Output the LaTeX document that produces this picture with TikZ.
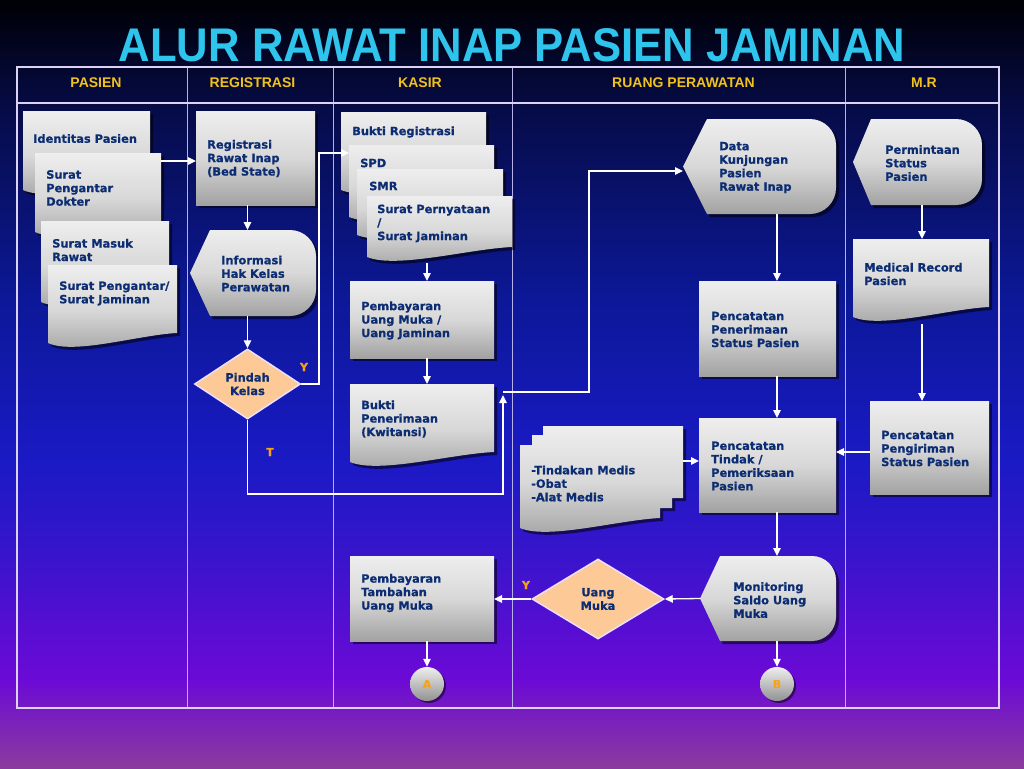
\documentclass[tikz,border=0pt]{standalone}
\usepackage{fontspec}
\setmainfont{DejaVu Sans}
\newfontfamily\boxfont[BoldFeatures={FakeBold=0.7}]{DejaVu Sans}
\newfontfamily\hdrfont{Liberation Sans}
\usetikzlibrary{arrows.meta,shapes.geometric,shadows,fit}
\definecolor{bgA}{HTML}{000004}
\definecolor{bgB}{HTML}{060C48}
\definecolor{bgC}{HTML}{0C1898}
\definecolor{bgD}{HTML}{1A1AC4}
\definecolor{bgE}{HTML}{3A14CC}
\definecolor{bgF}{HTML}{6C0AD6}
\definecolor{bgG}{HTML}{8A3C9C}
\definecolor{txtblue}{HTML}{0D2D72}
\definecolor{shtop}{HTML}{EEEEEE}
\definecolor{shmid}{HTML}{D8D8D8}
\definecolor{shbot}{HTML}{A2A2A2}
\definecolor{peach}{HTML}{FDC996}
\definecolor{diaborder}{HTML}{ECE0FA}
\definecolor{lblorange}{HTML}{F6A21A}
\definecolor{hdryellow}{HTML}{F2C21C}
\definecolor{ttlcyan}{HTML}{2FC4EC}
\definecolor{tblline}{HTML}{DCD2F6}
\definecolor{tblthin}{HTML}{B8B0E8}
\newcommand\rectshape[4]{\path[shp] (#1,#2) rectangle (#3,#4);}
\newcommand\docshape[4]{\path[shp] (#1,#2) -- (#3,#2) -- (#3,#4) .. controls ({#3-0.3*(#3-#1)},{#4+2}) and ({#1+0.2*(#3-#1)},{#4+22}) .. (#1,{#4+10}) -- cycle;}
\newcommand\dispshape[6]{\path[shp] (#1,{(#2+#4)/2}) -- ({#1+#5},#2) -- ({#3-#6},#2) .. controls ({#3-0.45*#6},#2) and (#3,{#2+0.45*#6}) .. (#3,{#2+#6}) -- (#3,{#4-#6}) .. controls (#3,{#4-0.45*#6}) and ({#3-0.45*#6},#4) .. ({#3-#6},#4) -- ({#1+#5},#4) -- cycle;}
\newcommand\mkbox[5]{\coordinate (#1nw) at (#2,#3); \coordinate (#1se) at (#4,#5); \node[inv,fit=(#1nw)(#1se)] (#1) {};}
\begin{document}
\begin{tikzpicture}[x=1pt,y=-1pt,
  shp/.style={top color=shtop,bottom color=shbot,middle color=shmid,
    drop shadow={shadow xshift=3pt,shadow yshift=-3pt,opacity=.55,fill=black}},
  inv/.style={rectangle,inner sep=0pt,outer sep=0pt,draw=none,fill=none},
  txt/.style={anchor=west,inner sep=0pt,align=left,text=txtblue,
    font=\boxfont\fontsize{11.4}{13.5}\selectfont\bfseries},
  hdr/.style={anchor=base,inner sep=0pt,text=hdryellow,
    font=\hdrfont\bfseries\fontsize{14}{14}\selectfont},
  lbl/.style={inner sep=0pt,text=lblorange,font=\boxfont\fontsize{11}{11}\selectfont\bfseries},
  dia/.style={diamond,inner sep=0pt,fill=peach,draw=diaborder,line width=1.5pt,
    text=txtblue,align=center,font=\boxfont\fontsize{11.4}{13.5}\selectfont\bfseries},
  conn/.style={circle,minimum size=34pt,inner sep=0pt,top color=shtop,bottom color=shbot!90!black,
    drop shadow={shadow xshift=2pt,shadow yshift=-2pt,opacity=.5,fill=black},
    text=lblorange,font=\boxfont\fontsize{11}{11}\selectfont\bfseries},
  arr/.style={draw=white,line width=1.3pt,-{Triangle[length=8pt,width=7.5pt]}}]
\useasboundingbox (0,0) rectangle (1024,768);
% background
\shade[top color=bgA,bottom color=bgB] (0,0) rectangle (1024,111);
\shade[top color=bgB,bottom color=bgC] (0,110) rectangle (1024,301);
\shade[top color=bgC,bottom color=bgD] (0,300) rectangle (1024,461);
\shade[top color=bgD,bottom color=bgE] (0,460) rectangle (1024,561);
\shade[top color=bgE,bottom color=bgF] (0,560) rectangle (1024,681);
\shade[top color=bgF,bottom color=bgG] (0,680) rectangle (1024,768);
% title
\node[anchor=base,inner sep=0pt,text=ttlcyan,font=\hdrfont\bfseries\fontsize{45}{45}\selectfont] (ttl) at (512,62) {\scalebox{0.97}[1.05]{ALUR RAWAT INAP PASIEN JAMINAN}};
% table
\foreach \cx in {187,333,512,845} \draw[tblthin,line width=0.8pt] (\cx,67) -- (\cx,708);
\draw[tblline,line width=2pt] (17,103) -- (999,103);
\draw[tblline,line width=2pt] (17,67) rectangle (999,708);
\node[hdr] (hpas) at (96,87) {PASIEN};
\node[hdr] (hreg) at (252.5,87) {REGISTRASI};
\node[hdr] (hkas) at (420,87) {KASIR};
\node[hdr] (hrua) at (683.5,87) {RUANG PERAWATAN};
\node[hdr] (hmr) at (924,87) {M.R};
% helper coordinates
\coordinate (h161) at (0,161);
\coordinate (h461) at (0,461);
\coordinate (h452) at (0,452);
\coordinate (x777) at (777,0);
\coordinate (x922) at (922,0);
\coordinate (x427) at (427,0);
\coordinate (v1) at (319,153);
\coordinate (v2) at (503,494);
\coordinate (j2) at (503,395);
\coordinate (j1) at (503,392);
\coordinate (v3) at (589,171);
% PASIEN documents
\docshape{23}{111}{150}{180}\mkbox{id1}{23}{111}{150}{180}
\node[txt] (tid1) at (33,138.5) {Identitas Pasien};
\docshape{35}{153}{161}{222}\mkbox{d2}{35}{153}{161}{222}
\node[txt] (td2) at (46,188) {Surat\\Pengantar\\Dokter};
\docshape{41}{221}{169}{292}\mkbox{d3}{41}{221}{169}{292}
\node[txt] (td3) at (52,250) {Surat Masuk\\Rawat};
\docshape{48}{265}{177}{333}\mkbox{d4}{48}{265}{177}{333}
\node[txt] (td4) at (59,293.5) {Surat Pengantar/\\Surat Jaminan};
% REGISTRASI
\rectshape{196}{111}{315}{205}\mkbox{reg}{196}{111}{315}{205}
\node[txt] (treg) at (207,158.5) {Registrasi\\Rawat Inap\\(Bed State)};
\dispshape{190}{230}{316}{316}{20}{26}\mkbox{info}{190}{230}{316}{316}
\node[txt] (tinfo) at (221,273.5) {Informasi\\Hak Kelas\\Perawatan};
\node[dia,aspect=1.5,minimum width=106pt,minimum height=70pt] (pk) at (247.5,384) {Pindah\\Kelas};
% KASIR
\docshape{341}{112}{486}{180}\mkbox{k1}{341}{112}{486}{180}
\node[txt] (tk1) at (352,132) {Bukti Registrasi};
\docshape{349}{145}{494}{207}\mkbox{k2}{349}{145}{494}{207}
\node[txt] (tk2) at (360,163) {SPD};
\docshape{357}{169}{503}{225}\mkbox{k3}{357}{169}{503}{225}
\node[txt] (tk3) at (369,186) {SMR};
\docshape{367}{196}{512}{247}\mkbox{k4}{367}{196}{512}{247}
\node[txt] (tk4) at (377,223.5) {Surat Pernyataan\\/\\Surat Jaminan};
\rectshape{350}{281}{494}{358}\mkbox{pu}{350}{281}{494}{358}
\node[txt] (tpu) at (361,320.5) {Pembayaran\\Uang Muka /\\Uang Jaminan};
\docshape{350}{384}{494}{452}\mkbox{kp}{350}{384}{494}{452}
\node[txt] (tkp) at (361,419) {Bukti\\Penerimaan\\(Kwitansi)};
\rectshape{350}{556}{494}{641}\mkbox{pbt}{350}{556}{494}{641}
\node[txt] (tpbt) at (361,593) {Pembayaran\\Tambahan\\Uang Muka};
\node[conn] (A) at (427,684) {A};
% RUANG PERAWATAN
\dispshape{683}{119}{836}{214}{24}{26}\mkbox{dk}{683}{119}{836}{214}
\node[txt] (tdk) at (719,167.5) {Data\\Kunjungan\\Pasien\\Rawat Inap};
\rectshape{699}{281}{836}{376}\mkbox{pp}{699}{281}{836}{376}
\node[txt] (tpp) at (711,329.5) {Pencatatan\\Penerimaan\\Status Pasien};
\rectshape{699}{418}{836}{512}\mkbox{pt}{699}{418}{836}{512}
\node[txt] (tpt) at (711,466) {Pencatatan\\Tindak /\\Pemeriksaan\\Pasien};
\path[shp] (520,445) -- (532,445) -- (532,435) -- (543,435) -- (543,426) -- (683,426) -- (683,498) -- (672,498) -- (672,508) -- (660,508) -- (660,518) .. controls (618,520) and (548,540) .. (520,528) -- cycle;
\mkbox{md}{520}{426}{683}{518}
\node[txt] (tmd) at (531,483.5) {-Tindakan Medis\\-Obat\\-Alat Medis};
\dispshape{700}{556}{836}{641}{20}{24}\mkbox{mon}{700}{556}{836}{641}
\node[txt] (tmon) at (733,600) {Monitoring\\Saldo Uang\\Muka};
\node[dia,aspect=1.65,minimum width=132pt,minimum height=80pt] (um) at (598,599) {Uang\\Muka};
\node[conn] (B) at (777,684) {B};
% M.R
\dispshape{853}{119}{982}{205}{18}{26}\mkbox{perm}{853}{119}{982}{205}
\node[txt] (tperm) at (885,163) {Permintaan\\Status\\Pasien};
\docshape{853}{239}{989}{307}\mkbox{mr}{853}{239}{989}{307}
\node[txt] (tmr) at (864,274) {Medical Record\\Pasien};
\rectshape{870}{401}{989}{494}\mkbox{pg}{870}{401}{989}{494}
\node[txt] (tpg) at (881,448.5) {Pencatatan\\Pengiriman\\Status Pasien};
% labels
\node[lbl] (ly1) at (304,367) {Y};
\node[lbl] (lt) at (270,452) {T};
\node[lbl] (ly2) at (526,585) {Y};
% connectors
\draw[arr] (d2.east |- h161) -- (reg.west |- h161);
\draw[arr] (reg.south -| pk.north) -- (info.north -| pk.north);
\draw[arr] (info.south -| pk.north) -- (pk.north);
\draw[arr] (pk.east) -| (v1) -- (k2.west |- v1);
\draw[arr] (pk.south) |- (v2) -- (j2);
\draw[arr] (j1) -| (v3) -- (dk.west |- v3);
\draw[arr] (k4.south -| x427) ++(0,16) -- (pu.north -| x427);
\draw[arr] (pu.south -| x427) -- (kp.north -| x427);
\draw[arr] (pbt.south -| A) -- (A.north);
\draw[arr] (dk.south -| x777) -- (pp.north -| x777);
\draw[arr] (pp.south -| x777) -- (pt.north -| x777);
\draw[arr] (md.east |- h461) -- (pt.west |- h461);
\draw[arr] (pg.west |- h452) -- (pt.east |- h452);
\draw[arr] (pt.south -| x777) -- (mon.north -| x777);
\draw[arr] (mon.west) -- (um.east);
\draw[arr] (um.west) -- (pbt.east |- um.west);
\draw[arr] (mon.south -| B) -- (B.north);
\draw[arr] (perm.south -| x922) -- (mr.north -| x922);
\draw[arr] (mr.south -| x922) ++(0,17) -- (pg.north -| x922);
\end{tikzpicture}
\end{document}
